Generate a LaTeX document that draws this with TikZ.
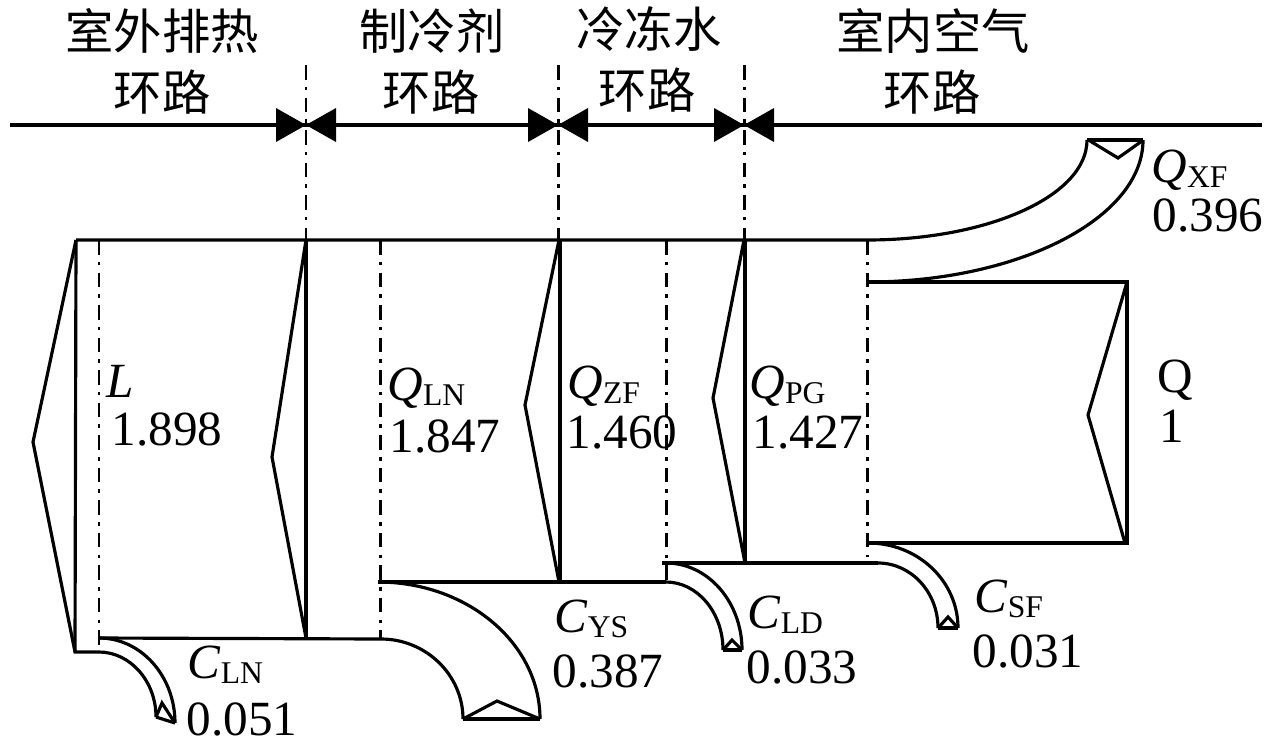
\documentclass[tikz,border=0pt]{standalone}
\usepackage{fontspec}
\setmainfont{Liberation Serif}
\newfontfamily\cjk{Noto Sans CJK SC}
\newcommand{\lsub}[1]{\raisebox{-3pt}{\fontsize{18}{18}\selectfont #1}}
\begin{document}
\begin{tikzpicture}[x=0.02cm,y=-0.02cm,line width=1.8pt,line join=miter,
  sep/.style={line width=1.7pt,dash pattern=on 8.5pt off 4pt on 2pt off 4pt},
  lbl/.style={anchor=base west,inner sep=0pt,font=\fontsize{28}{30}\selectfont},
  hdr/.style={inner sep=0pt,font=\cjk\fontsize{27.5}{30}\selectfont}]
\useasboundingbox (0,0) rectangle (1280,754);

% ---------- header ----------
\node[hdr] (h1a) at (162,31) {室外排热};
\node[hdr] (h1b) at (162,92) {环路};
\node[hdr] (h2a) at (432,31) {制冷剂};
\node[hdr] (h2b) at (431,92) {环路};
\node[hdr] (h3a) at (649,29) {冷冻水};
\node[hdr] (h3b) at (647,90) {环路};
\node[hdr] (h4a) at (933,31) {室内空气};
\node[hdr] (h4b) at (932,92) {环路};

\coordinate (hl) at (10,125);
\coordinate (hr) at (1262,125);
\coordinate (b1) at (306,125);
\coordinate (b2) at (558,125);
\coordinate (b3) at (744,125);
\draw (hl) -- (hr);
\foreach \b in {b1,b2,b3}{
  \fill (\b) -- ++(-30,-17) -- ++(0,34) -- cycle;
  \fill (\b) -- ++(30,-17) -- ++(0,34) -- cycle;
}
\draw[sep] (306,65) -- (306,240);
\draw[sep] (558,65) -- (558,240);
\draw[sep] (744,65) -- (744,240);

% ---------- outdoor heat rejection ----------
\draw (76,240) -- (867,240) .. controls (988,240) and (1087,196) .. (1087,140);
\draw (76,240) -- (75,652);
\draw (76,240) -- (33,442) -- (75,652) -- (99,652);
\draw[sep] (99,240) -- (99,652);
\draw (99,638) -- (381,639);
% C_LN
\draw (99,638) .. controls (141,638) and (175,676) .. (175,723);
\draw (99,652) .. controls (130,652) and (156,681) .. (156,717);
\draw (156,717) -- (175,723);
\draw (156,717) -- (162,703) -- (175,723);

% ---------- refrigerant ----------
\draw (306,240) -- (306,638);
\draw (306,240) -- (272,457) -- (306,638);
\draw[sep] (380,240) -- (380,640);
\draw (378,582) -- (666,582);
% C_YS
\draw (378,582) .. controls (467,582) and (540,643) .. (540,719);
\draw (381,639) .. controls (426,639) and (463,675) .. (463,719);
\draw (463,719) -- (540,719);
\draw (463,719) -- (497,701) -- (540,719);

% ---------- chilled water ----------
\draw (560,240) -- (560,582);
\draw (559,240) -- (525,405) -- (559,582);
\draw[sep] (666,240) -- (666,582);
\draw (662,563) -- (878,563);
% C_LD
\draw (666,563) .. controls (708,563) and (742,602) .. (742,650);
\draw (666,582) .. controls (697,582) and (723,612) .. (723,650);
\draw (723,650) -- (742,650);
\draw (723,650) -- (732,640) -- (742,650);

% ---------- indoor air ----------
\draw (745,240) -- (745,563);
\draw (744,240) -- (713,398) -- (745,563);
\draw[sep] (867,240) -- (867,557);
\draw (867,282) -- (1127,282) -- (1127,543) -- (868,543);
\draw (1127,282) -- (1088,415) -- (1125,543);
% Q_XF
\draw (867,282) .. controls (1019,282) and (1143,218) .. (1143,140);
\draw (1087,140) -- (1143,140);
\draw (1090,141) -- (1118,158) -- (1142,141);
% C_SF
\draw (868,543) .. controls (918,543) and (958,581) .. (958,628);
\draw (878,563) .. controls (911,563) and (938,592) .. (938,628);
\draw (938,628) -- (958,628);
\draw (938,628) -- (948,617) -- (958,628);

% ---------- labels ----------
\node[lbl] (lL) at (105,397) {\textit{L}};
\node[lbl] (vL) at (110,445) {1.898};
\node[lbl] (lQLN) at (386,400) {\textit{Q}\lsub{LN}};
\node[lbl] (vQLN) at (388,452) {1.847};
\node[lbl] (lQZF) at (566,398) {\textit{Q}\lsub{ZF}};
\node[lbl] (vQZF) at (565,448) {1.460};
\node[lbl] (lQPG) at (748,398) {\textit{Q}\lsub{PG}};
\node[lbl] (vQPG) at (751,448) {1.427};
\node[lbl] (lQ) at (1156,392) {Q};
\node[lbl] (vQ) at (1158,442) {1};
\node[lbl] (lQXF) at (1150,182) {\textit{Q}\lsub{XF}};
\node[lbl] (vQXF) at (1151,231) {0.396};
\node[lbl] (lCLN) at (186,678) {\textit{C}\lsub{LN}};
\node[lbl] (vCLN) at (185,735) {0.051};
\node[lbl] (lCYS) at (553,632) {\textit{C}\lsub{YS}};
\node[lbl] (vCYS) at (551,687) {0.387};
\node[lbl] (lCLD) at (746,628) {\textit{C}\lsub{LD}};
\node[lbl] (vCLD) at (745,683) {0.033};
\node[lbl] (lCSF) at (973,612) {\textit{C}\lsub{SF}};
\node[lbl] (vCSF) at (971,667) {0.031};
\end{tikzpicture}
\end{document}
